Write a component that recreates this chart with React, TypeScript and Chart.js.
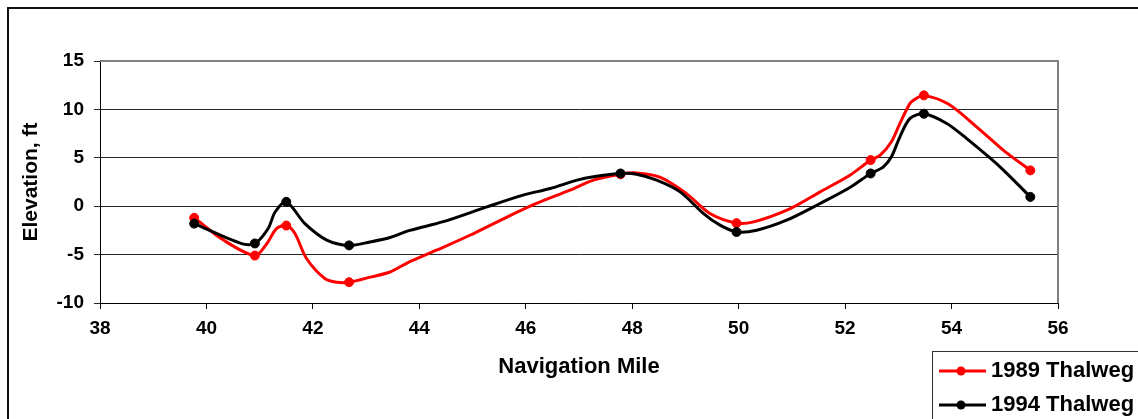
import React, { useEffect, useRef } from "react";
import { Chart, registerables } from "chart.js";

Chart.register(...registerables);

// Thalweg profile, 1989 survey (navigation mile, elevation in ft)
const miles1989 = [
  39.77, 40.32, 40.91, 41.13, 41.32, 41.5, 41.66, 41.88, 42.23, 42.45, 42.68,
  43.1, 43.45, 43.76, 44.32, 44.95, 45.58, 46.2, 46.83, 47.27, 47.78, 48.08,
  48.52, 49.02, 49.46, 49.96, 50.28, 50.97, 51.53, 52.09, 52.48, 52.66, 52.87,
  53.03, 53.22, 53.34, 53.48, 53.94, 54.47, 54.97, 55.48,
];
const elev1989 = [
  -1.2, -3.5, -5.1, -3.9, -2.3, -2.0, -2.8, -5.4, -7.5, -7.85, -7.85,
  -7.3, -6.8, -5.9, -4.55, -3.0, -1.3, 0.28, 1.65, 2.7, 3.3, 3.44,
  3.0, 1.3, -0.76, -1.75, -1.62, -0.24, 1.48, 3.2, 4.76, 5.27, 6.65,
  8.55, 10.62, 11.14, 11.45, 10.55, 8.2, 5.8, 3.7,
];
// Surveyed stations shown with a marker
const stations1989 = [39.77, 40.91, 41.5, 42.68, 47.78, 49.96, 52.48, 53.48, 55.48];

// Thalweg profile, 1994 survey
const miles1994 = [
  39.77, 40.66, 40.91, 41.16, 41.29, 41.5, 41.85, 42.26, 42.68, 43.07, 43.45,
  43.82, 44.45, 45.27, 45.95, 46.46, 46.96, 47.33, 47.78, 48.08, 48.46, 48.9,
  49.34, 49.65, 49.96, 50.34, 50.9, 51.53, 52.09, 52.48, 52.72, 52.87, 53.03,
  53.22, 53.48, 53.91, 54.28, 54.91, 55.48,
];
const elev1994 = [
  -1.8, -3.86, -3.85, -2.3, -0.6, 0.45, -1.8, -3.5, -4.05, -3.7, -3.24,
  -2.5, -1.6, -0.07, 1.14, 1.83, 2.69, 3.1, 3.38, 3.31, 2.69, 1.48,
  -0.76, -1.96, -2.66, -2.48, -1.45, 0.28, 1.93, 3.38, 4.07, 5.1, 7.17,
  9.07, 9.55, 8.55, 7.0, 4.07, 0.96,
];
const stations1994 = [39.77, 40.91, 41.5, 42.68, 47.78, 49.96, 52.48, 53.48, 55.48];

const seriesNames = ["1989 Thalweg", "1994 Thalweg"];
const xTitle = "Navigation Mile";
const yTitle = "Elevation, ft";

const FONT = "'Liberation Sans', Arial, sans-serif";
const RED = "#ff0000";
const BLACK = "#000000";

const toPoints = (xs: number[], ys: number[]) => xs.map((x, i) => ({ x, y: ys[i] }));

const markerRadius = (stations: number[]) => (ctx: any) => {
  const p = ctx.raw as { x: number } | undefined;
  return p && stations.includes(p.x) ? 4.5 : 0;
};

// Frame, plot border, axis titles and legend
const decorations = {
  id: "decorations",
  beforeDatasetsDraw(chart: any) {
    const { ctx, chartArea } = chart;
    ctx.save();
    ctx.strokeStyle = "#808080";
    ctx.lineWidth = 2;
    ctx.beginPath();
    ctx.moveTo(chartArea.left, chartArea.top);
    ctx.lineTo(chartArea.right, chartArea.top);
    ctx.lineTo(chartArea.right, chartArea.bottom);
    ctx.stroke();
    ctx.restore();
  },
  afterDraw(chart: any) {
    const { ctx, chartArea } = chart;
    ctx.save();
    // outer frame
    ctx.strokeStyle = "#111";
    ctx.lineWidth = 2;
    ctx.strokeRect(8, 8, 1200, 500);

    // axis titles
    ctx.fillStyle = "#000";
    ctx.font = `bold 22px ${FONT}`;
    ctx.textAlign = "center";
    ctx.textBaseline = "alphabetic";
    ctx.fillText(xTitle, (chartArea.left + chartArea.right) / 2, 373);

    ctx.save();
    ctx.translate(37, (chartArea.top + chartArea.bottom) / 2);
    ctx.rotate(-Math.PI / 2);
    ctx.font = `bold 21px ${FONT}`;
    ctx.fillText(yTitle, 0, 0);
    ctx.restore();

    // legend
    ctx.fillStyle = "#fff";
    ctx.fillRect(932, 351, 400, 200);
    ctx.strokeStyle = "#333";
    ctx.lineWidth = 1;
    ctx.strokeRect(932.5, 351.5, 400, 200);
    const colors = [RED, BLACK];
    const rows = [371, 405];
    seriesNames.forEach((name, i) => {
      const y = rows[i];
      ctx.strokeStyle = colors[i];
      ctx.fillStyle = colors[i];
      ctx.lineWidth = 3;
      ctx.beginPath();
      ctx.moveTo(939, y);
      ctx.lineTo(986, y);
      ctx.stroke();
      ctx.beginPath();
      ctx.arc(961, y, 4.5, 0, Math.PI * 2);
      ctx.fill();
      ctx.fillStyle = "#000";
      ctx.font = `bold 22px ${FONT}`;
      ctx.textAlign = "left";
      ctx.textBaseline = "alphabetic";
      ctx.fillText(name, 991, y + 5.5);
    });
    ctx.restore();
  },
};

export default function App() {
  const canvasRef = useRef<HTMLCanvasElement | null>(null);

  useEffect(() => {
    const canvas = canvasRef.current;
    if (!canvas) return;
    const chart = new Chart(canvas, {
      type: "line",
      data: {
        datasets: [
          {
            label: seriesNames[0],
            data: toPoints(miles1989, elev1989),
            borderColor: RED,
            backgroundColor: RED,
            borderWidth: 3,
            tension: 0.3,
            pointRadius: markerRadius(stations1989),
            pointBorderWidth: 1,
            pointBorderColor: RED,
            pointBackgroundColor: RED,
            order: 2,
          },
          {
            label: seriesNames[1],
            data: toPoints(miles1994, elev1994),
            borderColor: BLACK,
            backgroundColor: BLACK,
            borderWidth: 3,
            tension: 0.3,
            pointRadius: markerRadius(stations1994),
            pointBorderWidth: 1,
            pointBorderColor: BLACK,
            pointBackgroundColor: BLACK,
            order: 1,
          },
        ],
      },
      options: {
        responsive: false,
        animation: false,
        devicePixelRatio: 1,
        layout: { padding: { left: 0, top: 61, right: 80, bottom: 0 } },
        plugins: {
          legend: { display: false },
          tooltip: { enabled: false },
        },
        scales: {
          x: {
            type: "linear",
            min: 38,
            max: 56,
            afterFit: (scale: any) => {
              scale.height = 116;
            },
            ticks: {
              stepSize: 2,
              color: "#000",
              padding: 8,
              font: { family: FONT, size: 19, weight: "bold" },
            },
            grid: {
              drawOnChartArea: false,
              tickLength: 6,
              color: "#000",
            },
            border: { color: "#000", width: 1 },
          },
          y: {
            type: "linear",
            min: -10,
            max: 15,
            afterFit: (scale: any) => {
              scale.width = 100;
            },
            ticks: {
              stepSize: 5,
              color: "#000",
              padding: 10,
              font: { family: FONT, size: 19, weight: "bold" },
            },
            grid: {
              tickLength: 6,
              color: "#262626",
            },
            border: { color: "#000", width: 1 },
          },
        },
      },
      plugins: [decorations],
    });
    return () => chart.destroy();
  }, []);

  return (
    <div style={{ position: "absolute", left: 0, top: 0, width: 1138, height: 419, background: "#fff", overflow: "hidden" }}>
      <canvas ref={canvasRef} width={1138} height={419} />
    </div>
  );
}
